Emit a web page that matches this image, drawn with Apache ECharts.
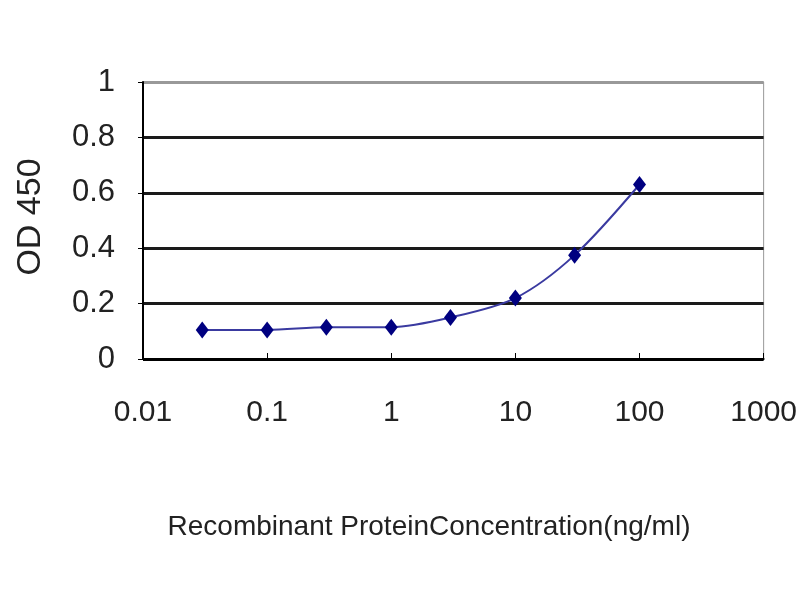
<!DOCTYPE html>
<html>
<head>
<meta charset="utf-8">
<script src="https://cdn.jsdelivr.net/npm/echarts@6/dist/echarts.min.js"></script>
<style>html,body{margin:0;padding:0;background:#fff}#c{width:800px;height:600px}</style>
</head>
<body>
<div id="c"></div>
<script>
var concentrations = [0.03, 0.1, 0.3, 1, 3, 10, 30, 100];
var odValues = [0.105, 0.105, 0.115, 0.115, 0.15, 0.22, 0.375, 0.63];
var xTickLabels = ['0.01', '0.1', '1', '10', '100', '1000'];
var yTickLabels = ['0', '0.2', '0.4', '0.6', '0.8', '1'];
var xTitle = 'Recombinant ProteinConcentration(ng/ml)';
var yTitle = 'OD 450';

var points = concentrations.map(function (c, i) { return [c, odValues[i]]; });
var font = '"Liberation Sans", Arial, sans-serif';
var chart = echarts.init(document.getElementById('c'));
chart.setOption({
  animation: false,
  backgroundColor: '#fff',
  grid: { left: 143, right: 35, top: 82, bottom: 241, show: true, borderColor: '#999', borderWidth: 1, backgroundColor: 'transparent' },
  xAxis: {
    type: 'log', logBase: 10, min: 0.01, max: 1000,
    axisLine: { lineStyle: { color: '#000', width: 2 } },
    axisTick: { show: true, inside: true, length: 6, lineStyle: { color: '#000', width: 1 } },
    splitLine: { show: false },
    axisLabel: {
      margin: 39, fontSize: 30, color: '#222', fontFamily: font,
      formatter: function (v) {
        var idx = Math.round(Math.log10(v)) + 2;
        return xTickLabels[idx] !== undefined ? xTickLabels[idx] : '';
      }
    }
  },
  yAxis: {
    type: 'value', min: 0, max: 1, interval: 0.2,
    axisLine: { show: true, lineStyle: { color: '#000', width: 2 } },
    axisTick: { show: true, length: 5, lineStyle: { color: '#000' } },
    splitLine: { show: true, lineStyle: { color: ['#000', '#1a1a1a', '#1a1a1a', '#1a1a1a', '#1a1a1a', '#999'], width: 3 } },
    axisLabel: {
      margin: 28, fontSize: 31, color: '#222', fontFamily: font,
      formatter: function (v) { return yTickLabels[Math.round(v * 5)]; }
    }
  },
  series: [{
    type: 'line',
    data: points,
    smooth: 0.3,
    symbol: 'diamond',
    symbolSize: [13, 17],
    lineStyle: { color: '#3a3aa0', width: 2 },
    itemStyle: { color: '#000080' },
    z: 5
  }],
  graphic: [
    { type: 'text', x: 31, y: 217, rotation: Math.PI / 2,
      style: { text: yTitle, font: '34px ' + font, fill: '#222', textAlign: 'center', textVerticalAlign: 'middle' } },
    { type: 'text', x: 429, y: 527,
      style: { text: xTitle, font: '28px ' + font, fill: '#222', textAlign: 'center', textVerticalAlign: 'middle' } }
  ]
});
</script>
</body>
</html>
